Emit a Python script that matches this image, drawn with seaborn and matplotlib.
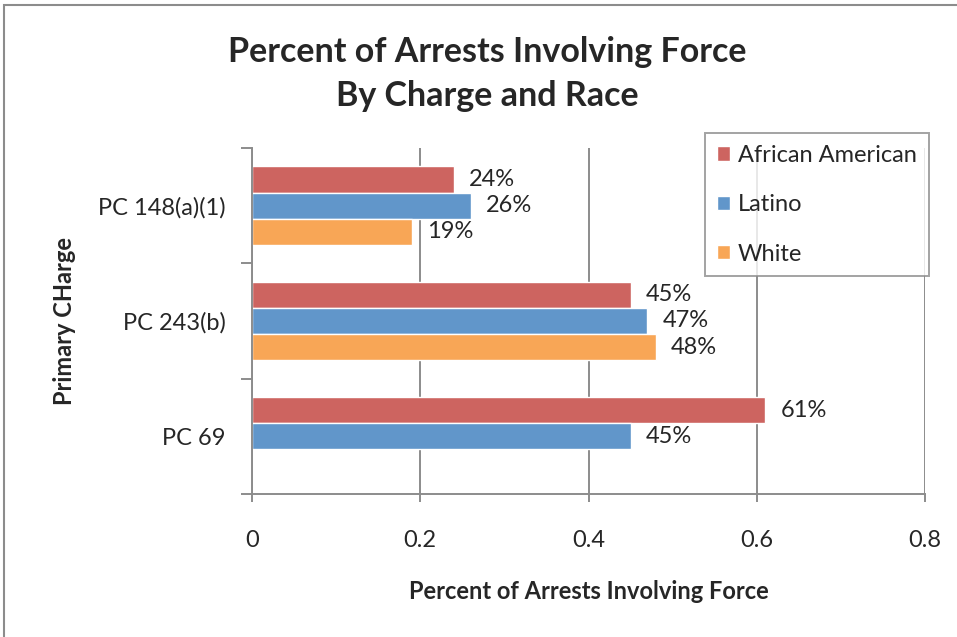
import pandas as pd
import matplotlib.pyplot as plt
import seaborn as sns
from matplotlib.patches import Rectangle

# Data
charges = ['PC 148(a)(1)', 'PC 243(b)', 'PC 69']
races = ['African American', 'Latino', 'White']
african_american = [0.24, 0.45, 0.61]
latino = [0.26, 0.47, 0.45]
white = [0.19, 0.48, None]  # no White bar for PC 69

rows = []
for race, vals in zip(races, [african_american, latino, white]):
    for charge, v in zip(charges, vals):
        if v is not None:
            rows.append({'charge': charge, 'race': race, 'pct': v})
df = pd.DataFrame(rows)

sns.set_style('white')
plt.rcParams['font.family'] = ['Lato', 'DejaVu Sans']

fig = plt.figure(figsize=(9.57, 6.37), dpi=100)
ax = fig.add_axes([0.2633, 0.2245, 0.7033, 0.5432])

palette = {'African American': '#CD6460', 'Latino': '#6196CA', 'White': '#F8A656'}
sns.barplot(data=df, y='charge', x='pct', hue='race', order=charges, hue_order=races,
            palette=palette, orient='h', width=0.68, saturation=1, ax=ax, errorbar=None)

for c in ax.containers:
    ax.bar_label(c, fmt=lambda v: f'{v * 100:.0f}%', padding=11, fontsize=17)

ax.set_xlim(0, 0.8)
ax.set_ylim(2.5, -0.5)
ax.set_xticks([0, 0.2, 0.4, 0.6, 0.8])
ax.set_xticklabels(['0', '0.2', '0.4', '0.6', '0.8'])
ax.xaxis.grid(True, color='#8C8C8C', linewidth=1.4)
ax.set_axisbelow(True)
ax.set_yticks([0, 1, 2])
ax.set_yticks([-0.5, 0.5, 1.5, 2.5], minor=True)
ax.tick_params(axis='y', which='major', length=0, labelsize=17, pad=19)
ax.tick_params(axis='y', which='minor', length=8, width=1.4, color='#8C8C8C', left=True)
ax.tick_params(axis='x', length=6, width=1.4, color='#8C8C8C', bottom=True, labelsize=17, pad=20)

for s in ['top', 'right']:
    ax.spines[s].set_visible(False)
for s in ['left', 'bottom']:
    ax.spines[s].set_color('#8C8C8C')
    ax.spines[s].set_linewidth(1.4)

ax.set_xlabel('Percent of Arrests Involving Force', fontsize=17, fontweight='bold', labelpad=21)
ax.set_ylabel('Primary CHarge', fontsize=17, fontweight='bold', labelpad=16)

fig.text(0.509, 0.884, 'Percent of Arrests Involving Force\nBy Charge and Race',
         ha='center', va='center', fontsize=24.5, fontweight='bold', linespacing=1.45)

leg = ax.legend(loc='upper left', bbox_to_anchor=(0.673, 1.043), frameon=True, fancybox=False,
                fontsize=17, handlelength=0.55, handleheight=0.55, labelspacing=1.2,
                borderpad=0.5, borderaxespad=0, handletextpad=0.35, title=None)
leg.get_frame().set_edgecolor('#8C8C8C')
leg.get_frame().set_linewidth(1.4)

fig.patches.append(Rectangle((0.004, -0.1), 1.2, 1.092, transform=fig.transFigure,
                             fill=False, edgecolor='#8C8C8C', linewidth=1.5))

fig.savefig('out.png', dpi=100)
